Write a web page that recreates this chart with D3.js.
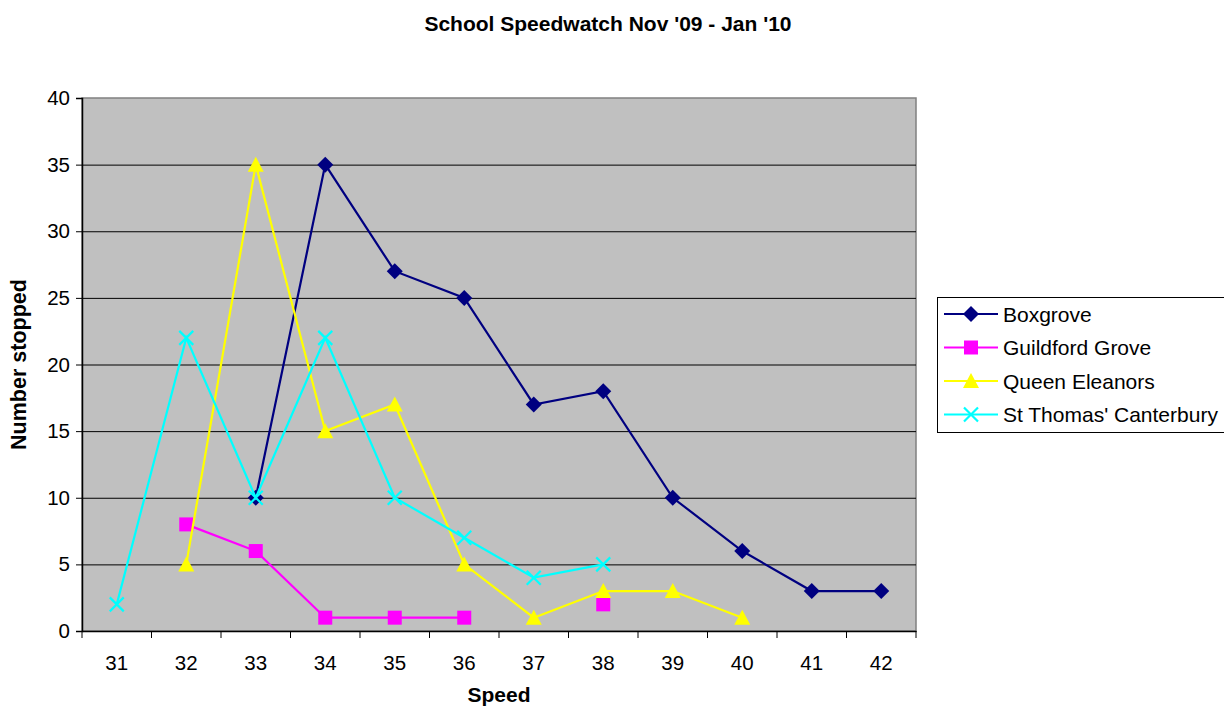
<!DOCTYPE html>
<html><head><meta charset="utf-8">
<script src="https://cdn.jsdelivr.net/npm/d3@7"></script>
<style>body{margin:0;background:#fff;} text{font-family:"Liberation Sans",Arial,sans-serif;}</style>
</head><body><svg id="c" width="1224" height="709"></svg>
<script>
const categories = [31,32,33,34,35,36,37,38,39,40,41,42];
const yTicks = [0,5,10,15,20,25,30,35,40];
const boxgrove = [null,null,10,35,27,25,17,18,10,6,3,3];
const guildford = [null,8,6,1,1,1,null,2,null,null,null,null];
const queen = [null,5,35,15,17,5,1,3,3,1,null,null];
const stthomas = [2,22,10,22,10,7,4,5,null,null,null,null];
const seriesNames = ["Boxgrove","Guildford Grove","Queen Eleanors","St Thomas' Canterbury"];
const seriesColors = ["#000080","#FF00FF","#FFFF00","#00FFFF"];
const seriesMarkers = ["diamond","square","triangle","x"];
const seriesData = [boxgrove, guildford, queen, stthomas];

const svg = d3.select("#c");
const L=82, R=916, T=98, B=631;
const x = d3.scaleBand().domain(categories).range([L,R]);
const y = d3.scaleLinear().domain([0,40]).range([B,T]);

svg.append("rect").attr("x",L).attr("y",T).attr("width",R-L).attr("height",B-T).attr("fill","#C0C0C0").attr("stroke","#808080").attr("stroke-width",1.5);
svg.append("g").selectAll("line").data(yTicks.filter(d=>d>0&&d<40)).join("line")
  .attr("x1",L).attr("x2",R).attr("y1",d=>y(d)+0.5).attr("y2",d=>y(d)+0.5).attr("stroke","#000").attr("stroke-width",1);

const yAxis = d3.axisLeft(y).tickValues(yTicks).tickSize(6).tickPadding(6);
const gy = svg.append("g").attr("transform",`translate(${L},0)`).call(yAxis);
gy.attr("font-size",null);
gy.selectAll("text").style("font-size","20.5px").attr("fill","#000");
gy.select(".domain").attr("stroke","#000").attr("stroke-width",1.5);

const xAxis = d3.axisBottom(x).tickSize(0).tickPadding(24);
const gx = svg.append("g").attr("transform",`translate(0,${B})`).call(xAxis);
gx.attr("font-size",null);
gx.selectAll("text").style("font-size","20.5px").attr("fill","#000");
gx.select(".domain").attr("stroke","#000").attr("stroke-width",1.5);
svg.append("g").selectAll("line").data(d3.range(categories.length+1)).join("line")
  .attr("x1",i=>L+i*x.step()).attr("x2",i=>L+i*x.step()).attr("y1",B).attr("y2",B+7).attr("stroke","#000");

function markerPath(type){
  if(type==="diamond") return "M0,-8L8,0L0,8L-8,0Z";
  if(type==="square") return "M-7,-7H7V7H-7Z";
  if(type==="triangle") return "M0,-8L8,7H-8Z";
  return "M-7,-7L7,7M7,-7L-7,7";
}

const line = d3.line().defined(d=>d.v!==null).x(d=>x(d.c)+x.bandwidth()/2).y(d=>y(d.v));
seriesData.forEach((arr,si)=>{
  const pts = arr.map((v,i)=>({c:categories[i],v}));
  svg.append("path").datum(pts).attr("d",line).attr("fill","none").attr("stroke",seriesColors[si]).attr("stroke-width",2.2);
  svg.append("g").selectAll("path").data(pts.filter(d=>d.v!==null)).join("path")
    .attr("transform",d=>`translate(${x(d.c)+x.bandwidth()/2},${y(d.v)})`)
    .attr("d",markerPath(seriesMarkers[si]))
    .attr("fill",seriesMarkers[si]==="x"?"none":seriesColors[si])
    .attr("stroke",seriesColors[si]).attr("stroke-width",seriesMarkers[si]==="x"?2.2:0);
});

svg.append("text").attr("x",608).attr("y",31).attr("text-anchor","middle").style("font-size","21px").style("font-weight","bold").text("School Speedwatch Nov '09 - Jan '10");
svg.append("text").attr("x",499).attr("y",702).attr("text-anchor","middle").style("font-size","21px").style("font-weight","bold").text("Speed");
svg.append("text").attr("transform",`translate(26,${(T+B)/2}) rotate(-90)`).attr("text-anchor","middle").style("font-size","21.5px").style("font-weight","bold").text("Number stopped");

const lg = svg.append("g");
lg.append("rect").attr("x",937.5).attr("y",297.5).attr("width",300).attr("height",135).attr("fill","#fff").attr("stroke","#000").attr("stroke-width",1);
seriesNames.forEach((n,i)=>{
  const cy = 314 + i*33.5;
  lg.append("line").attr("x1",944).attr("x2",998).attr("y1",cy).attr("y2",cy).attr("stroke",seriesColors[i]).attr("stroke-width",2.2);
  lg.append("path").attr("transform",`translate(971,${cy})`).attr("d",markerPath(seriesMarkers[i]))
    .attr("fill",seriesMarkers[i]==="x"?"none":seriesColors[i]).attr("stroke",seriesColors[i]).attr("stroke-width",seriesMarkers[i]==="x"?2.2:0);
  lg.append("text").attr("x",1003).attr("y",cy+7.5).style("font-size","21px").attr("fill","#000").text(n);
});
</script></body></html>
